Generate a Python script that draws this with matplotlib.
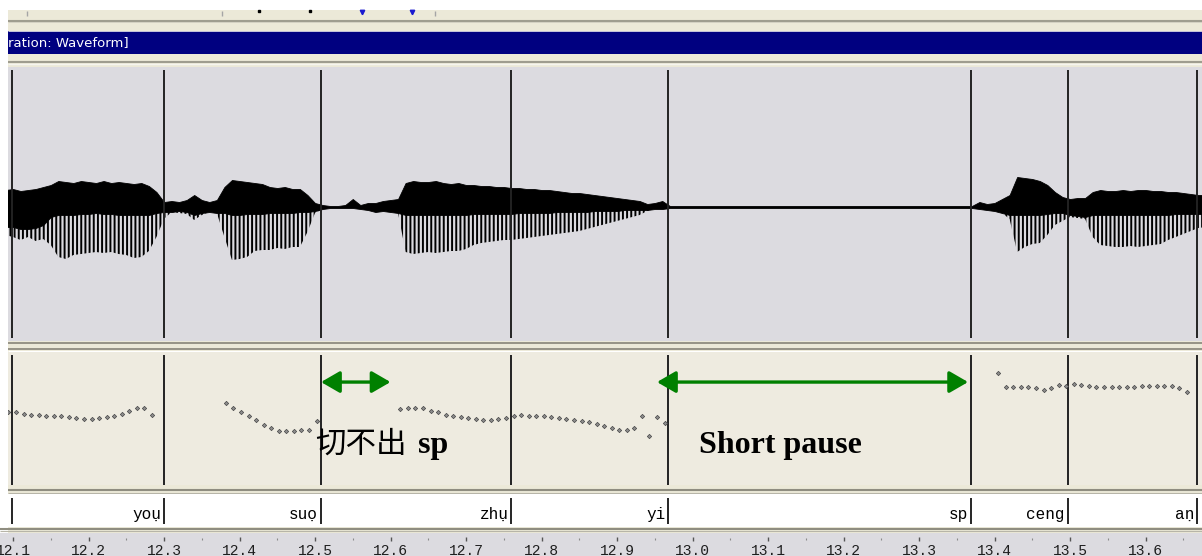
import numpy as np
import matplotlib
matplotlib.use("Agg")
import matplotlib.pyplot as plt
from matplotlib.patches import Rectangle, ArrowStyle

plt.rcParams["hatch.linewidth"] = 1.4
plt.rcParams["hatch.color"] = "black"

# ---------------------------------------------------------------- data
# waveform envelope (amplitude units): top of the dense core, bottom of the
# core, and the lowest reach of the glottal-pulse spikes
wave_t = [
    12.09, 12.10, 12.11, 12.12, 12.13, 12.14, 12.15, 12.16, 12.17, 12.18,
    12.19, 12.20, 12.21, 12.22, 12.23, 12.24, 12.25, 12.26, 12.27, 12.28,
    12.29, 12.30, 12.31, 12.32, 12.33, 12.34, 12.35, 12.36, 12.37, 12.38,
    12.39, 12.40, 12.41, 12.42, 12.43, 12.44, 12.45, 12.46, 12.47, 12.48,
    12.49, 12.50, 12.51, 12.52, 12.53, 12.54, 12.55, 12.56, 12.57, 12.58,
    12.59, 12.60, 12.61, 12.62, 12.63, 12.64, 12.65, 12.66, 12.67, 12.68,
    12.69, 12.70, 12.71, 12.72, 12.73, 12.74, 12.75, 12.76, 12.77, 12.78,
    12.79, 12.80, 12.81, 12.82, 12.83, 12.84, 12.85, 12.86, 12.87, 12.88,
    12.89, 12.90, 12.91, 12.92, 12.93, 12.94, 12.95, 12.96, 12.97,
    13.05, 13.15, 13.25, 13.36,
    13.37, 13.38, 13.39, 13.40, 13.41, 13.42, 13.43, 13.44, 13.45, 13.46,
    13.47, 13.48, 13.49, 13.50, 13.51, 13.52, 13.53, 13.54, 13.55, 13.56,
    13.57, 13.58, 13.59, 13.60, 13.61, 13.62, 13.63, 13.64, 13.65, 13.66,
    13.67, 13.68,
]
wave_top = [
    17, 18, 16, 17, 18, 20, 22, 26, 25, 24,
    26, 25, 24, 26, 24, 25, 24, 23, 24, 21,
    15, 5, 6, 5, 7, 12, 7, 5, 7, 20,
    27, 26, 25, 24, 23, 20, 19, 20, 18, 18,
    12, 4, 2, 1, 1, 2, 8, 2, 4, 4,
    6, 7, 8, 24, 26, 25, 25, 26, 24, 23,
    24, 22, 22, 21, 21, 20, 20, 19, 19, 18,
    18, 17, 17, 16, 15, 14, 14, 13, 12, 11,
    10, 9, 8, 7, 6, 3, 4, 6, 1,
    1, 1, 1, 1,
    1, 5, 3, 4, 8, 12, 30, 29, 28, 26,
    22, 15, 10, 8, 9, 9, 15, 17, 16, 16,
    17, 16, 17, 17, 16, 16, 15, 15, 14, 13,
    12, 12,
]
wave_core = [
    -20, -20, -22, -22, -21, -18, -10, -8, -8, -8,
    -7, -7, -6, -7, -7, -8, -8, -8, -8, -8,
    -6, -5, -5, -4, -5, -8, -6, -5, -6, -6,
    -8, -8, -7, -7, -7, -6, -6, -6, -6, -5,
    -5, -4, -2, -1, -1, -1, -1, -2, -3, -5,
    -4, -5, -6, -8, -8, -8, -8, -8, -8, -8,
    -8, -8, -7, -7, -7, -7, -7, -7, -6, -6,
    -6, -6, -6, -5, -5, -5, -5, -5, -4, -4,
    -4, -4, -3, -3, -3, -3, -2, -2, -1,
    -1, -1, -1, -1,
    -1, -2, -3, -4, -6, -8, -8, -8, -8, -8,
    -7, -6, -6, -8, -9, -10, -8, -8, -8, -8,
    -8, -8, -8, -8, -8, -8, -8, -7, -7, -7,
    -7, -7,
]
wave_spike = [
    -28, -30, -33, -30, -34, -32, -38, -50, -52, -48,
    -47, -46, -45, -46, -45, -47, -48, -51, -50, -44,
    -30, -12, -5, -6, -7, -13, -8, -5, -6, -30,
    -53, -52, -50, -44, -43, -43, -41, -42, -40, -40,
    -25, -6, -2, -1, -1, -1, -1, -2, -3, -5,
    -4, -5, -6, -45, -47, -46, -45, -46, -45, -44,
    -44, -42, -38, -36, -35, -34, -33, -33, -32, -31,
    -30, -29, -28, -27, -26, -25, -24, -22, -20, -18,
    -16, -14, -12, -10, -8, -4, -2, -2, -1,
    -1, -1, -1, -1,
    -1, -2, -3, -4, -6, -12, -45, -40, -37, -36,
    -28, -18, -14, -10, -11, -12, -30, -38, -39, -40,
    -40, -39, -40, -39, -38, -37, -33, -30, -27, -24,
    -21, -20,
]

# F0 track (Hz), one value per 10 ms frame, per voiced stretch
f0_starts = [12.094, 12.382, 12.613, 13.405]
f0_you = [276, 274, 267, 263, 263, 261, 259, 258, 256, 252,
          250, 248, 252, 256, 259, 267, 280, 291, 289, 263]
f0_suo = [309, 291, 274, 259, 244, 226, 214, 203, 203, 203, 205, 207, 242]
f0_zhu_yi = [286, 291, 291, 288, 280, 273, 265, 259, 256, 252,
             248, 244, 244, 248, 252, 261, 263, 261, 259, 258,
             254, 252, 248, 244, 241, 235, 229, 222, 214, 207,
             207, 214, 259, 184, 256, 233]
f0_ceng_an = [422, 370, 370, 370, 368, 365, 359, 365, 376, 372,
              380, 376, 372, 367, 367, 367, 367, 367, 367, 372,
              372, 374, 374, 372, 365, 351]

# syllable tier: interval boundaries (s) and the label ending at each one
boundaries = [12.099, 12.300, 12.508, 12.760, 12.968, 13.369, 13.497, 13.668]
syllables = ["yoụ", "suọ", "zhụ", "yi", "sp", "ceng", "aṇ"]

# time ruler
major_ticks = [12.1, 12.2, 12.3, 12.4, 12.5, 12.6, 12.7, 12.8, 12.9,
               13.0, 13.1, 13.2, 13.3, 13.4, 13.5, 13.6, 13.7]
major_labels = ["12.1", "12.2", "12.3", "12.4", "12.5", "12.6", "12.7",
                "12.8", "12.9", "13.0", "13.1", "13.2", "13.3", "13.4",
                "13.5", "13.6", "13.7"]
minor_ticks = [12.15, 12.25, 12.35, 12.45, 12.55, 12.65, 12.75, 12.85,
               12.95, 13.05, 13.15, 13.25, 13.35, 13.45, 13.55, 13.65]

# annotated stretches
missed_sp_span = [12.508, 12.600]
short_pause_span = [12.953, 13.365]

# ---------------------------------------------------------------- layout
W, H, DPI = 1202, 556, 100
PX_PER_S = 755.0


def t_at(x):
    """time under pixel column x"""
    return 12.1 + (x - 13) / PX_PER_S


def box(x0, y0, x1, y1):
    return [x0 / W, 1 - y1 / H, (x1 - x0) / W, (y1 - y0) / H]


def plain(ax, face):
    ax.set_facecolor(face)
    ax.set_xticks([])
    ax.set_yticks([])
    for s in ax.spines.values():
        s.set_visible(False)


BEIGE = "#ece9d8"
PANEL_GREY = "#dcdbe0"
PITCH_BG = "#eeebe0"
BOUND = "#222222"
SEP = "#8f8d80"

fig = plt.figure(figsize=(W / DPI, H / DPI), dpi=DPI, facecolor=BEIGE)

# window chrome, drawn in pixel units
bg = fig.add_axes([0, 0, 1, 1])
bg.set_xlim(0, W)
bg.set_ylim(H, 0)
bg.axis("off")
bg.add_patch(Rectangle((0, 0), W, 10, color="white", lw=0))
bg.add_patch(Rectangle((0, 10), 8, H - 10, color="white", lw=0))
bg.add_patch(Rectangle((8, 31), W - 8, 23, color="#000080", lw=0))
bg.hlines(30.5, 8, W, color="#c9c8dc", lw=0.7)
bg.hlines(20.5, 8, W, color="#9f9d8f", lw=1.5)
bg.hlines(22.2, 8, W, color="#d4d1c3", lw=0.7)
bg.hlines(62, 8, W, color="#9f9d8f", lw=1.5)
bg.hlines(64, 8, W, color="#f6f5ef", lw=1.0)
bg.hlines(342.8, 8, W, color=SEP, lw=1.3)
bg.hlines(348.6, 8, W, color=SEP, lw=1.3)
bg.hlines(350.6, 8, W, color="white", lw=0.8)
bg.hlines(489.6, 8, W, color=SEP, lw=1.5)
bg.hlines(493.2, 8, W, color="#b7b5a8", lw=0.8)
bg.hlines(528.6, 0, W, color=SEP, lw=1.5)
bg.hlines(531.2, 0, W, color="#b7b5a8", lw=0.8)
bg.vlines([27, 222, 435], 11, 16, color="#a5a5a5", lw=1.0)
bg.plot([259, 310], [11, 11], ls="none", marker="s", ms=1.6, color="black")
bg.plot([362, 412], [11.5, 11.5], ls="none", marker="v", ms=3.2,
        color="#1a1ad0")
bg.text(8, 43, "ration: Waveform]", color="white", fontsize=9.5,
        family="DejaVu Sans", ha="left", va="center")

# waveform panel
ax_w = fig.add_axes(box(8, 67, W, 341))
plain(ax_w, PANEL_GREY)
ax_w.set_xlim(t_at(8), t_at(W))
ax_w.set_ylim(-134, 140)
ax_w.fill_between(wave_t, wave_core, wave_top, color="black", lw=0.6,
                  edgecolor="black")
ax_w.fill_between(wave_t, wave_spike, wave_core, facecolor="none",
                  edgecolor="black", hatch="||||", lw=0)
ax_w.vlines(boundaries, 0.01, 0.99, transform=ax_w.get_xaxis_transform(),
            color=BOUND, lw=1.4)

# pitch panel
ax_p = fig.add_axes(box(8, 352, W, 485))
plain(ax_p, PITCH_BG)
ax_p.set_xlim(t_at(8), t_at(W))
ax_p.set_ylim(0, 500)
ax_p.vlines(boundaries, 0.0, 0.975, transform=ax_p.get_xaxis_transform(),
            color=BOUND, lw=1.4)
for start, vals in zip(f0_starts, [f0_you, f0_suo, f0_zhu_yi, f0_ceng_an]):
    tt = start + 0.01 * np.arange(len(vals))
    ax_p.plot(tt, vals, ls="none", marker="D", ms=2.2, mfc="#8e8e8e",
              mec="#444444", mew=0.5, zorder=3)

arrow = ArrowStyle("<|-|>", head_length=0.95, head_width=0.55)
for span in (missed_sp_span, short_pause_span):
    ax_p.annotate("", xy=(span[1], 387), xytext=(span[0], 387),
                  arrowprops=dict(arrowstyle=arrow, mutation_scale=12,
                                  color="#008000", lw=2.4,
                                  shrinkA=0, shrinkB=0), zorder=4)
ax_p.text(t_at(315), 123, "切不出", family=["Noto Sans CJK SC", "DejaVu Sans"],
          fontsize=22, ha="left", va="baseline", color="black", zorder=5)
ax_p.text(t_at(418), 120, "sp", family="Liberation Serif", weight="bold",
          fontsize=23, ha="left", va="baseline", color="black", zorder=5)
ax_p.text(t_at(699), 120, "Short pause", family="Liberation Serif",
          weight="bold", fontsize=23, ha="left", va="baseline",
          color="black", zorder=5)

# syllable tier
ax_l = fig.add_axes(box(0, 494, W, 527))
plain(ax_l, "white")
ax_l.set_xlim(t_at(0), t_at(W))
ax_l.set_ylim(0, 1)
ax_l.vlines(boundaries, 0.09, 0.88, color="black", lw=1.2)
for b, lab in zip(boundaries[1:], syllables):
    ax_l.annotate(lab, xy=(b, 0.245), xytext=(-3, 0),
                  textcoords="offset pixels", ha="right", va="baseline",
                  fontsize=11.5, family=["Liberation Mono", "DejaVu Sans Mono"],
                  color="black")

# time ruler
ax_t = fig.add_axes(box(0, 533, W, 556))
plain(ax_t, PANEL_GREY)
ax_t.set_xlim(t_at(0), t_at(W))
ax_t.set_ylim(0, 1)
ax_t.vlines(major_ticks, 0.64, 0.83, color="#555555", lw=1.0)
ax_t.vlines(minor_ticks, 0.70, 0.79, color="#8a8a8a", lw=0.8)
for tv, lab in zip(major_ticks, major_labels):
    ax_t.annotate(lab, xy=(tv, 0.0), xytext=(0, 1),
                  textcoords="offset pixels", ha="center", va="baseline",
                  fontsize=10.5, family="Liberation Mono", color="#1e1e1e",
                  annotation_clip=False)

fig.savefig("out.png", dpi=DPI, facecolor=BEIGE)
